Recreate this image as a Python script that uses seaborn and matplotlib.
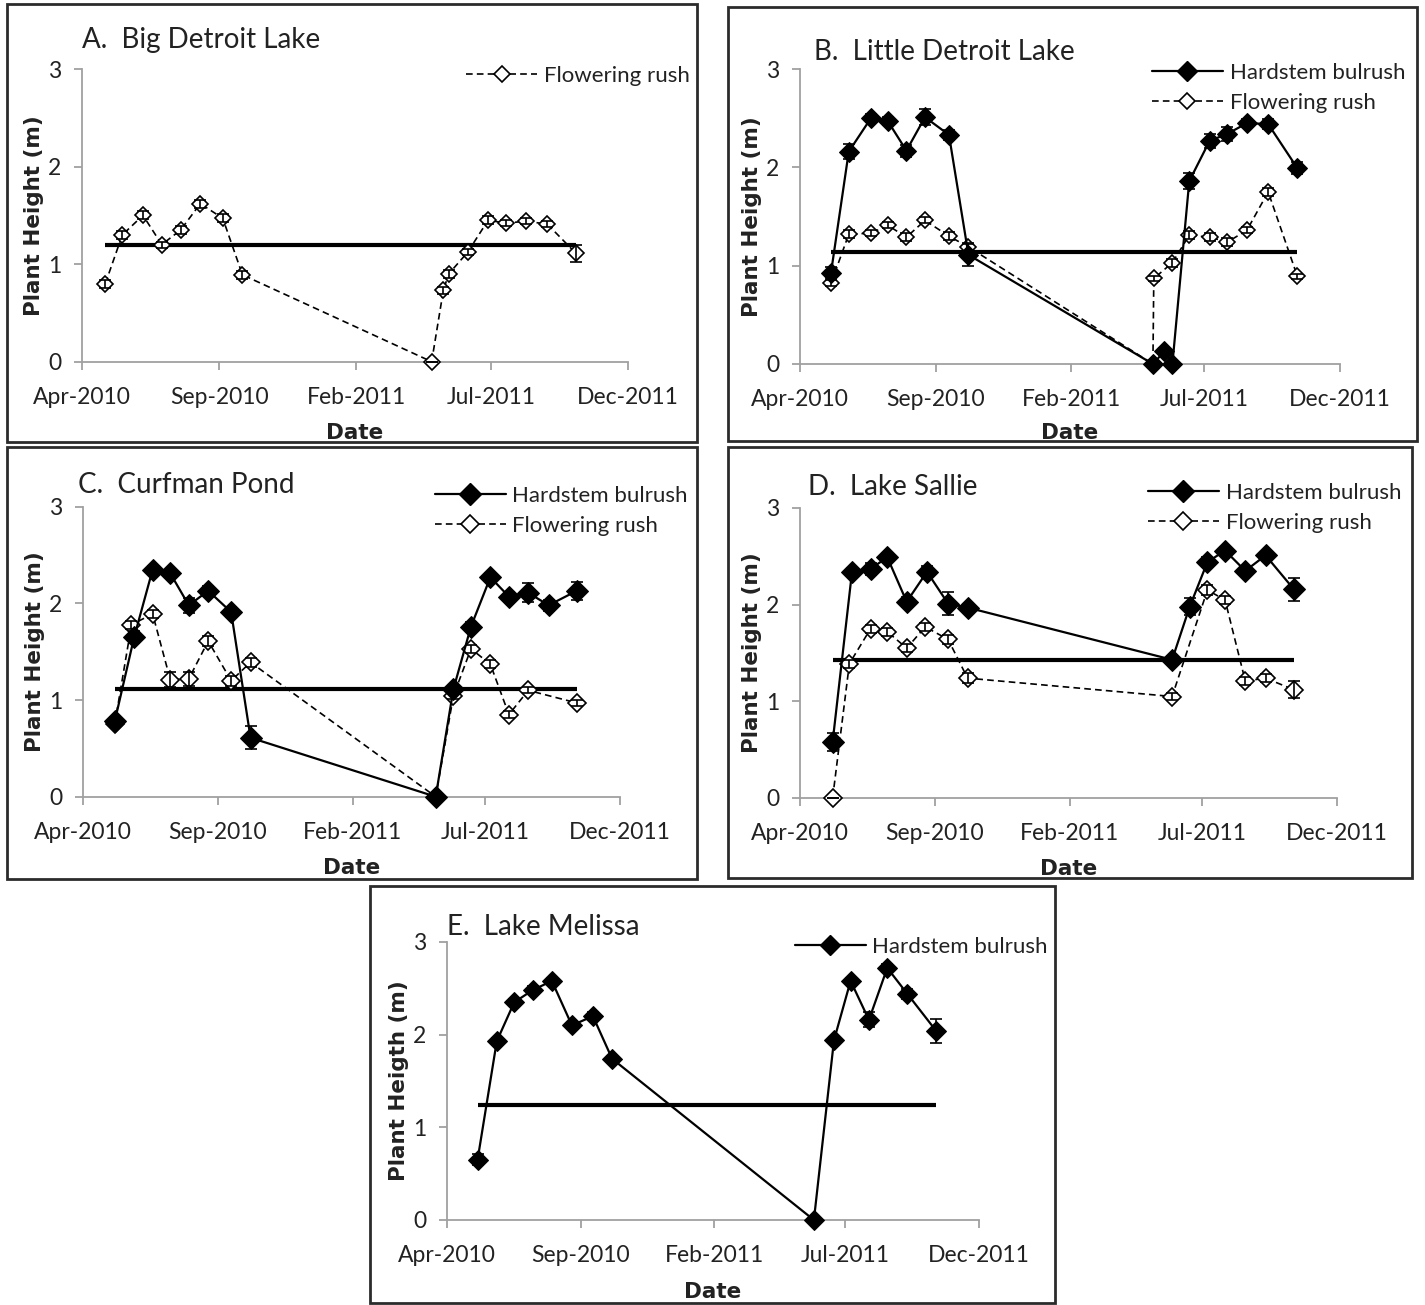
import pandas as pd
import matplotlib
matplotlib.use("Agg")
import matplotlib.pyplot as plt
import matplotlib.dates as mdates
from matplotlib.patches import Rectangle
from matplotlib.lines import Line2D
import seaborn as sns

sns.set_theme(style="white")
plt.rcParams["font.family"] = ["Lato", "DejaVu Sans"]

W, H = 1425, 1305

# A. Big Detroit Lake
a_fr_dates = ["2010-04-27", "2010-05-16", "2010-06-08", "2010-06-29", "2010-07-20", "2010-08-11",
              "2010-09-05", "2010-09-27", "2011-04-26", "2011-05-09", "2011-05-15", "2011-06-05",
              "2011-06-28", "2011-07-18", "2011-08-09", "2011-09-02", "2011-10-04"]
a_fr_height = [0.80, 1.30, 1.50, 1.20, 1.35, 1.62, 1.47, 0.89, 0.0, 0.73, 0.90, 1.12, 1.45, 1.42, 1.44, 1.41, 1.11]
a_fr_err = [0.04, 0.04, 0.04, 0.03, 0.04, 0.04, 0.04, 0.04, 0.0, 0.04, 0.04, 0.03, 0.04, 0.03, 0.03, 0.03, 0.09]
a_ref = 1.20

# B. Little Detroit Lake
b_hs_dates = ["2010-05-06", "2010-05-26", "2010-06-20", "2010-07-09", "2010-07-30", "2010-08-20",
              "2010-09-16", "2010-10-08", "2011-05-04", "2011-05-17", "2011-05-26", "2011-06-14",
              "2011-07-07", "2011-07-27", "2011-08-18", "2011-09-11", "2011-10-14"]
b_hs_height = [0.93, 2.16, 2.50, 2.47, 2.17, 2.51, 2.33, 1.11, 0.0, 0.13, 0.0, 1.86, 2.27, 2.34, 2.45, 2.44, 1.99]
b_hs_err = [0.06, 0.08, 0.04, 0.04, 0.06, 0.08, 0.05, 0.11, 0.0, 0.03, 0.0, 0.08, 0.07, 0.07, 0.04, 0.05, 0.06]
b_fr_dates = ["2010-05-06", "2010-05-26", "2010-06-20", "2010-07-09", "2010-07-30", "2010-08-20",
              "2010-09-16", "2010-10-08", "2011-05-04", "2011-05-05", "2011-05-26", "2011-06-14",
              "2011-07-07", "2011-07-27", "2011-08-18", "2011-09-11", "2011-10-14"]
b_fr_height = [0.82, 1.32, 1.33, 1.41, 1.29, 1.46, 1.30, 1.19, 0.0, 0.87, 1.03, 1.31, 1.29, 1.24, 1.36, 1.75, 0.89]
b_fr_err = [0.03, 0.04, 0.03, 0.03, 0.04, 0.03, 0.04, 0.04, 0.0, 0.03, 0.04, 0.04, 0.04, 0.04, 0.03, 0.04, 0.03]
b_ref = 1.14

# C. Curfman Pond
c_hs_dates = ["2010-05-07", "2010-05-29", "2010-06-19", "2010-07-09", "2010-07-30", "2010-08-21",
              "2010-09-16", "2010-10-08", "2011-05-06", "2011-05-26", "2011-06-15", "2011-07-07",
              "2011-07-28", "2011-08-19", "2011-09-11", "2011-10-13"]
c_hs_height = [0.78, 1.65, 2.35, 2.31, 1.98, 2.13, 1.91, 0.61, 0.0, 1.11, 1.76, 2.27, 2.07, 2.11, 1.98, 2.13]
c_hs_err = [0.04, 0.06, 0.04, 0.04, 0.08, 0.05, 0.05, 0.12, 0.0, 0.04, 0.05, 0.04, 0.05, 0.10, 0.06, 0.09]
c_fr_dates = ["2010-05-07", "2010-05-26", "2010-06-19", "2010-07-09", "2010-07-30", "2010-08-21",
              "2010-09-16", "2010-10-08", "2011-05-06", "2011-05-26", "2011-06-15", "2011-07-07",
              "2011-07-28", "2011-08-19", "2011-10-13"]
c_fr_height = [0.75, 1.78, 1.89, 1.21, 1.22, 1.61, 1.20, 1.39, 0.0, 1.04, 1.53, 1.37, 0.85, 1.10, 0.97]
c_fr_err = [0.03, 0.04, 0.04, 0.08, 0.07, 0.05, 0.05, 0.05, 0.0, 0.03, 0.04, 0.04, 0.04, 0.03, 0.03]
c_ref = 1.11

# D. Lake Sallie
d_hs_dates = ["2010-05-08", "2010-05-30", "2010-06-20", "2010-07-09", "2010-07-31", "2010-08-23",
              "2010-09-16", "2010-10-08", "2011-05-28", "2011-06-17", "2011-07-07", "2011-07-27",
              "2011-08-19", "2011-09-11", "2011-10-13"]
d_hs_height = [0.58, 2.34, 2.37, 2.49, 2.03, 2.34, 2.01, 1.97, 1.43, 1.98, 2.44, 2.56, 2.35, 2.51, 2.16]
d_hs_err = [0.09, 0.04, 0.06, 0.04, 0.05, 0.06, 0.12, 0.04, 0.04, 0.09, 0.05, 0.04, 0.04, 0.04, 0.12]
d_fr_dates = ["2010-05-08", "2010-05-27", "2010-06-20", "2010-07-09", "2010-07-31", "2010-08-21",
              "2010-09-16", "2010-10-08", "2011-05-28", "2011-07-07", "2011-07-27", "2011-08-19",
              "2011-09-11", "2011-10-13"]
d_fr_height = [0.0, 1.39, 1.75, 1.72, 1.55, 1.77, 1.64, 1.24, 1.05, 2.15, 2.05, 1.21, 1.24, 1.12]
d_fr_err = [0.0, 0.04, 0.04, 0.04, 0.04, 0.04, 0.05, 0.05, 0.04, 0.05, 0.04, 0.04, 0.04, 0.09]
d_ref = 1.43

# E. Lake Melissa
e_hs_dates = ["2010-05-06", "2010-05-28", "2010-06-17", "2010-07-08", "2010-07-30", "2010-08-22",
              "2010-09-15", "2010-10-07", "2011-05-26", "2011-06-18", "2011-07-07", "2011-07-28",
              "2011-08-18", "2011-09-10", "2011-10-13"]
e_hs_height = [0.65, 1.93, 2.35, 2.48, 2.58, 2.10, 2.20, 1.74, 0.0, 1.94, 2.58, 2.16, 2.72, 2.44, 2.04]
e_hs_err = [0.06, 0.03, 0.03, 0.04, 0.03, 0.03, 0.04, 0.03, 0.0, 0.03, 0.03, 0.08, 0.04, 0.05, 0.13]
e_ref = 1.24

x_ticks = ["2010-04-01", "2010-09-01", "2011-02-01", "2011-07-01", "2011-12-01"]

HS = "Hardstem bulrush"
FR = "Flowering rush"
AXIS_GREY = "#a0a0a0"
TXT = "#222222"
DASH = (0, (4, 2.5))


def px_rect(x0, y0, x1, y1):
    return [x0 / W, 1 - y1 / H, (x1 - x0) / W, (y1 - y0) / H]


def serie_ciz(ax, dates, heights, errs, filled, ms):
    d = pd.to_datetime(dates)
    if filled:
        sns.lineplot(x=d, y=heights, ax=ax, color="black", lw=1.6, marker="D", markersize=ms,
                     markerfacecolor="black", markeredgecolor="black", estimator=None,
                     sort=False, legend=False, zorder=4, clip_on=False)
    else:
        sns.lineplot(x=d, y=heights, ax=ax, color="black", lw=1.2, linestyle=DASH,
                     marker="D", markersize=ms, markerfacecolor="white", markeredgecolor="black",
                     markeredgewidth=1.2, estimator=None, sort=False, legend=False, zorder=3,
                     clip_on=False)
    ax.errorbar(d, heights, yerr=errs, fmt="none", ecolor="black", elinewidth=1.2,
                capsize=4, capthick=1.2, zorder=5)


def panel(fig, rect, box, title, title_xy, ref, date_y, hs=None, fr=None,
          ylabel="Plant Height (m)", leg_xy=None, hs_ms=10, fr_ms=8.5):
    fig.patches.append(Rectangle((box[0] / W, 1 - box[3] / H), (box[2] - box[0]) / W,
                                 (box[3] - box[1]) / H, transform=fig.transFigure,
                                 fill=False, lw=2, ec="#2b2b2b"))
    ax = fig.add_axes(px_rect(*rect))
    ax.set_facecolor("none")
    ax_w = rect[2] - rect[0]
    ax_h = rect[3] - rect[1]

    first = []
    last = []
    for s in (fr, hs):
        if s is not None:
            first.append(pd.to_datetime(s[0][0]))
            last.append(pd.to_datetime(s[0][-1]))
    ax.plot([min(first), max(last)], [ref, ref], color="black", lw=3, zorder=2,
            solid_capstyle="butt")

    if fr is not None:
        serie_ciz(ax, fr[0], fr[1], fr[2], False, fr_ms)
    if hs is not None:
        serie_ciz(ax, hs[0], hs[1], hs[2], True, hs_ms)

    ax.set_xlim(pd.to_datetime(x_ticks[0]), pd.to_datetime(x_ticks[-1]))
    ax.set_ylim(0, 3)
    ax.set_xticks(pd.to_datetime(x_ticks))
    ax.xaxis.set_major_formatter(mdates.DateFormatter("%b-%Y"))
    ax.set_yticks([0, 1, 2, 3])
    for s in ["top", "right"]:
        ax.spines[s].set_visible(False)
    for s in ["left", "bottom"]:
        ax.spines[s].set_color(AXIS_GREY)
        ax.spines[s].set_linewidth(1.3)
    ax.tick_params(axis="both", which="major", direction="out", length=6, width=1.3,
                   color=AXIS_GREY, labelsize=16.5, labelcolor=TXT, bottom=True, left=True)
    ax.tick_params(axis="x", pad=12)
    ax.tick_params(axis="y", pad=9)

    ax.set_xlabel("Date", fontsize=15.5, fontweight="bold", color=TXT, family="DejaVu Sans")
    ax.set_ylabel(ylabel, fontsize=15.5, fontweight="bold", color=TXT, family="DejaVu Sans")
    ax.xaxis.set_label_coords(0.5, (rect[3] - date_y) / ax_h)
    ax.yaxis.set_label_coords(-38 / ax_w, 0.5)

    fig.text(title_xy[0] / W, 1 - title_xy[1] / H, title, fontsize=20, color=TXT,
             ha="left", va="center")

    handles = []
    labels = []
    if hs is not None:
        handles.append(Line2D([], [], color="black", lw=1.6, marker="D", markersize=hs_ms,
                              markerfacecolor="black"))
        labels.append(HS)
    if fr is not None:
        handles.append(Line2D([], [], color="black", lw=1.2, linestyle=DASH, marker="D",
                              markersize=fr_ms, markerfacecolor="white", markeredgewidth=1.2))
        labels.append(FR)
    ax.legend(handles, labels, loc="upper right", frameon=False,
              bbox_to_anchor=(leg_xy[0] / W, 1 - leg_xy[1] / H), bbox_transform=fig.transFigure,
              borderaxespad=0, borderpad=0, fontsize=16, handlelength=3.2, handletextpad=0.3,
              labelspacing=0.45, labelcolor=TXT)
    return ax


fig = plt.figure(figsize=(W / 100, H / 100), dpi=100)

panel(fig, (82, 69, 628, 361.7), (7, 4, 697, 442), "A.  Big Detroit Lake", (82, 40), a_ref, 423,
      fr=(a_fr_dates, a_fr_height, a_fr_err), leg_xy=(690, 66))

panel(fig, (800, 69, 1340, 364), (728, 7, 1417, 441), "B.  Little Detroit Lake", (814, 52), b_ref, 423,
      hs=(b_hs_dates, b_hs_height, b_hs_err), fr=(b_fr_dates, b_fr_height, b_fr_err),
      leg_xy=(1405, 63))

panel(fig, (83, 506.7, 620, 796.7), (7, 447, 697, 879), "C.  Curfman Pond", (78, 485), c_ref, 858,
      hs=(c_hs_dates, c_hs_height, c_hs_err), fr=(c_fr_dates, c_fr_height, c_fr_err),
      leg_xy=(688, 486), hs_ms=11.5, fr_ms=9)

panel(fig, (800, 508, 1337, 798), (728, 447, 1412, 878), "D.  Lake Sallie", (808, 487), d_ref, 859,
      hs=(d_hs_dates, d_hs_height, d_hs_err), fr=(d_fr_dates, d_fr_height, d_fr_err),
      leg_xy=(1401, 483), hs_ms=11.5, fr_ms=9)

panel(fig, (447, 942, 979, 1220), (370, 886, 1055, 1303), "E.  Lake Melissa", (447, 927), e_ref, 1282,
      hs=(e_hs_dates, e_hs_height, e_hs_err), ylabel="Plant Heigth (m)", leg_xy=(1048, 937))

fig.savefig("out.png", dpi=100)
plt.close(fig)
